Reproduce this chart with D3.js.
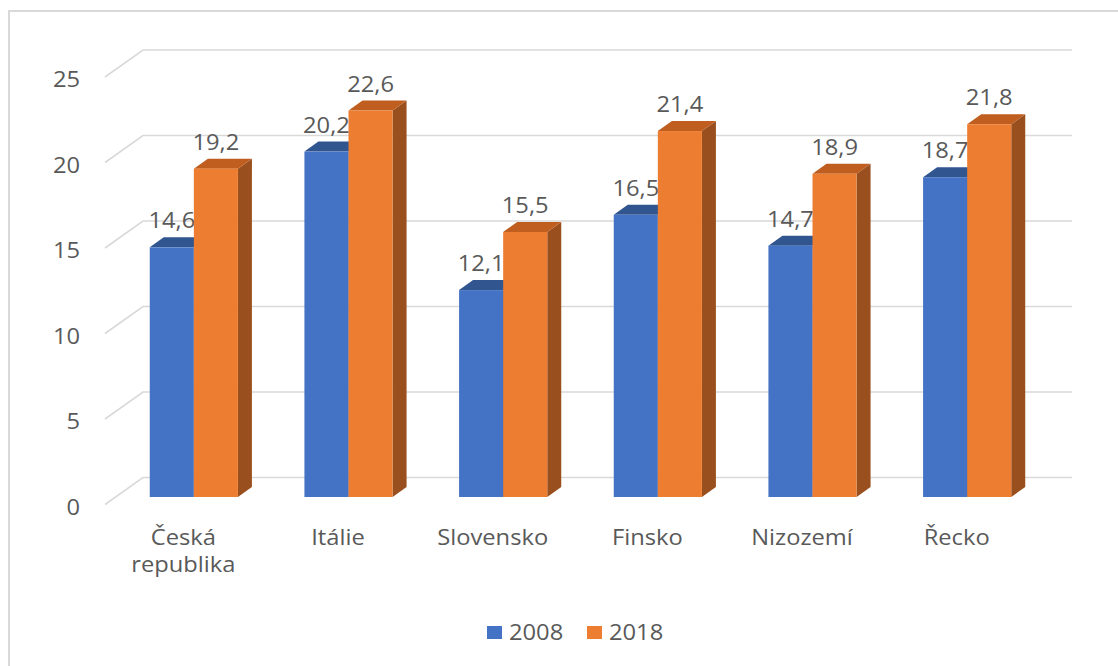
<!DOCTYPE html>
<html><head><meta charset="utf-8">
<script src="https://cdn.jsdelivr.net/npm/d3@7"></script>
<style>body{margin:0;background:#fff}svg{display:block}</style>
</head><body>
<svg id="c" width="1118" height="666"></svg>
<script>
const categories = ["Česká republika","Itálie","Slovensko","Finsko","Nizozemí","Řecko"];
const series = ["2008","2018"];
const values2008 = [14.6,20.2,12.1,16.5,14.7,18.7];
const values2018 = [19.2,22.6,15.5,21.4,18.9,21.8];
const yTicks = [0,5,10,15,20,25];
const colors = {"2008":{front:"#4472C4",top:"#30558f",side:"#2c4f8a"},"2018":{front:"#ED7D31",top:"#BF5E1F",side:"#99501e"}};

const svg = d3.select("#c");
const FONT = "'Open Sans', sans-serif";
const SX = 1.13;
const FS = 21;
const txtCol = "#595959";

function addText(g, x, y, str, anchor, size){
  return g.append("text").attr("transform",`translate(${x},${y}) scale(${SX},1)`)
    .attr("text-anchor",anchor).attr("font-family",FONT).attr("font-size",size)
    .attr("fill",txtCol).text(str);
}

// outer border
svg.append("rect").attr("x",9).attr("y",11).attr("width",1140).attr("height",700)
  .attr("fill","none").attr("stroke","#d9d9d9").attr("stroke-width",2);

// back-wall coordinates
const x = d3.scaleBand().domain(categories).range([144,1072]).paddingInner(0.43).paddingOuter(0.215);
const xs = d3.scaleBand().domain(series).range([0,x.bandwidth()]);
const y = d3.scaleLinear().domain([0,25]).range([477.5,50]);

const floorFront = {dx:-38, dy:27};
const barFront = {dx:-27.5, dy:19.5};
const barDepth = {dx:14, dy:-10};

// gridlines
const grid = svg.append("g");
yTicks.forEach(t=>{
  const yy = y(t);
  grid.append("path")
    .attr("d",`M${x.range()[0]+floorFront.dx-1},${yy+floorFront.dy}L${x.range()[0]-1},${yy}L${x.range()[1]},${yy}`)
    .attr("fill","none").attr("stroke","#d9d9d9").attr("stroke-width",1.6);
  addText(svg, 80, yy+floorFront.dy+10, String(t), "end", FS);
});

// bars
const valueMap = {"2008":values2008,"2018":values2018};
const barsG = svg.append("g");
categories.forEach((c,i)=>{
  series.forEach(s=>{
    const v = valueMap[s][i];
    const x0 = x(c)+xs(s)+barFront.dx;
    const w = xs.bandwidth();
    const yb = y(0)+barFront.dy;
    const yt = y(v)+barFront.dy;
    const g = barsG.append("g");
    g.append("path").attr("d",`M${x0+w},${yt}L${x0+w+barDepth.dx},${yt+barDepth.dy}L${x0+w+barDepth.dx},${yb+barDepth.dy}L${x0+w},${yb}Z`)
      .attr("fill",colors[s].side);
    g.append("path").attr("d",`M${x0},${yt}L${x0+barDepth.dx},${yt+barDepth.dy}L${x0+w+barDepth.dx},${yt+barDepth.dy}L${x0+w},${yt}Z`)
      .attr("fill",colors[s].top);
    g.append("rect").attr("x",x0).attr("y",yt).attr("width",w).attr("height",yb-yt).attr("fill",colors[s].front);
    addText(g, x0+w/2, yt-19, String(v).replace(".",","), "middle", FS);
  });
});

// category labels
categories.forEach(c=>{
  const cx = x(c)+x.bandwidth()/2+floorFront.dx;
  const lines = c === "Česká republika" ? c.split(" ") : [c];
  lines.forEach((ln,k)=>{
    addText(svg, cx, 545+k*27, ln, "middle", FS);
  });
});

// legend
const leg = [{s:"2008",x:487},{s:"2018",x:587}];
leg.forEach(l=>{
  svg.append("rect").attr("x",l.x).attr("y",626).attr("width",15).attr("height",13).attr("fill",colors[l.s].front);
  addText(svg, l.x+22, 640, l.s, "start", FS);
});
</script>
</body></html>
